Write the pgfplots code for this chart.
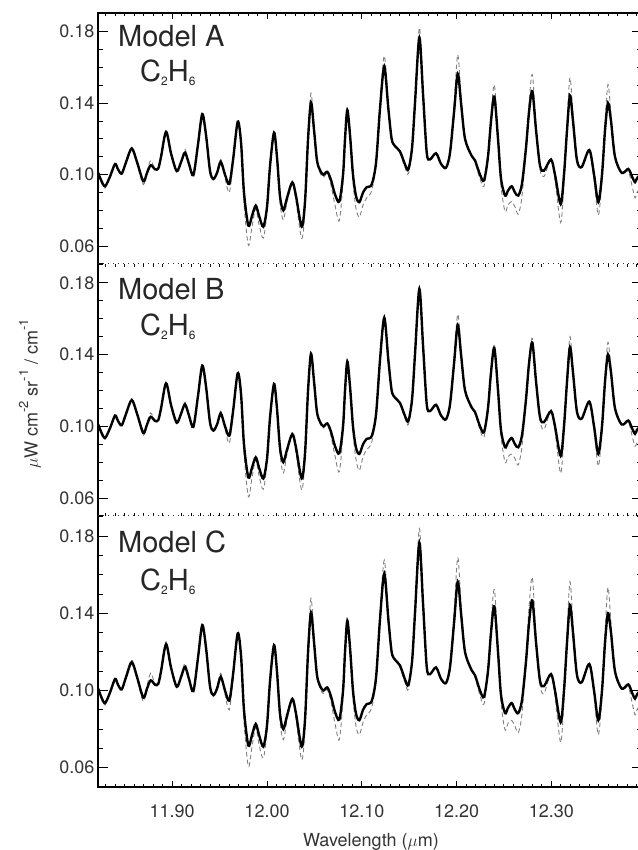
\documentclass[border=0pt]{standalone}
\usepackage{pgfplots}
\pgfplotsset{compat=1.18}
\usepackage{pgfplotstable}
\usepackage{fontspec}
\setmainfont{TeX Gyre Heros}

\pgfplotstableread{
x obs A B C
11.8220 0.1010 0.1005 0.1005 0.1000
11.8249 0.0970 0.0960 0.0960 0.0960
11.8291 0.0935 0.0925 0.0928 0.0925
11.8344 0.0990 0.0990 0.0990 0.0990
11.8397 0.1060 0.1060 0.1060 0.1060
11.8428 0.1030 0.1030 0.1030 0.1030
11.8467 0.1006 0.1005 0.1005 0.1005
11.8513 0.1070 0.1075 0.1075 0.1080
11.8573 0.1147 0.1150 0.1150 0.1160
11.8629 0.1070 0.1060 0.1065 0.1060
11.8695 0.0963 0.0944 0.0950 0.0944
11.8734 0.1010 0.1020 0.1020 0.1025
11.8773 0.1053 0.1080 0.1075 0.1090
11.8819 0.1030 0.1030 0.1030 0.1035
11.8853 0.1035 0.1040 0.1040 0.1045
11.8882 0.1100 0.1100 0.1100 0.1110
11.8935 0.1240 0.1240 0.1240 0.1253
11.8987 0.1120 0.1115 0.1115 0.1120
11.9047 0.1020 0.1020 0.1020 0.1020
11.9093 0.1070 0.1075 0.1075 0.1075
11.9135 0.1123 0.1142 0.1135 0.1142
11.9177 0.1060 0.1060 0.1060 0.1060
11.9223 0.0997 0.0990 0.0992 0.0990
11.9272 0.1170 0.1170 0.1170 0.1170
11.9317 0.1339 0.1340 0.1340 0.1345
11.9357 0.1220 0.1220 0.1220 0.1220
11.9399 0.1020 0.1010 0.1015 0.1010
11.9434 0.0976 0.0970 0.0972 0.0970
11.9473 0.1010 0.1015 0.1015 0.1015
11.9512 0.1072 0.1085 0.1085 0.1090
11.9557 0.1000 0.0980 0.0985 0.0980
11.9602 0.0948 0.0900 0.0905 0.0900
11.9641 0.1080 0.1060 0.1065 0.1060
11.9691 0.1296 0.1300 0.1300 0.1305
11.9726 0.1180 0.1170 0.1175 0.1170
11.9757 0.0900 0.0840 0.0850 0.0840
11.9803 0.0715 0.0605 0.0608 0.0607
11.9842 0.0770 0.0710 0.0715 0.0710
11.9881 0.0827 0.0810 0.0815 0.0810
11.9916 0.0770 0.0720 0.0725 0.0720
11.9961 0.0709 0.0645 0.0649 0.0650
12.0000 0.0820 0.0790 0.0795 0.0790
12.0032 0.1050 0.1040 0.1040 0.1040
12.0074 0.1236 0.1220 0.1225 0.1230
12.0105 0.1100 0.1080 0.1085 0.1080
12.0137 0.0880 0.0840 0.0845 0.0840
12.0172 0.0800 0.0747 0.0740 0.0745
12.0211 0.0870 0.0845 0.0845 0.0845
12.0267 0.0957 0.0950 0.0950 0.0955
12.0306 0.0880 0.0850 0.0850 0.0850
12.0366 0.0709 0.0643 0.0645 0.0641
12.0401 0.0850 0.0810 0.0820 0.0810
12.0433 0.1200 0.1220 0.1200 0.1230
12.0464 0.1405 0.1456 0.1405 0.1478
12.0496 0.1250 0.1270 0.1250 0.1280
12.0527 0.1080 0.1080 0.1080 0.1080
12.0559 0.1025 0.1010 0.1015 0.1010
12.0594 0.1000 0.0985 0.0990 0.0985
12.0636 0.1016 0.1005 0.1010 0.1005
12.0675 0.0970 0.0940 0.0945 0.0940
12.0717 0.0890 0.0830 0.0835 0.0830
12.0763 0.0850 0.0743 0.0747 0.0745
12.0802 0.1000 0.0960 0.0965 0.0960
12.0823 0.1200 0.1200 0.1200 0.1200
12.0847 0.1362 0.1365 0.1362 0.1366
12.0876 0.1220 0.1210 0.1215 0.1210
12.0907 0.1000 0.0960 0.0965 0.0960
12.0939 0.0880 0.0810 0.0815 0.0815
12.0974 0.0846 0.0762 0.0754 0.0771
12.1013 0.0900 0.0830 0.0830 0.0835
12.1052 0.0930 0.0870 0.0870 0.0875
12.1104 0.0945 0.0910 0.0910 0.0910
12.1150 0.1066 0.1060 0.1060 0.1060
12.1192 0.1370 0.1390 0.1375 0.1395
12.1237 0.1606 0.1665 0.1615 0.1676
12.1280 0.1370 0.1390 0.1375 0.1395
12.1315 0.1200 0.1200 0.1200 0.1200
12.1350 0.1160 0.1160 0.1160 0.1160
12.1403 0.1130 0.1120 0.1125 0.1120
12.1456 0.1057 0.1040 0.1045 0.1040
12.1491 0.1029 0.1005 0.1010 0.1005
12.1530 0.1150 0.1150 0.1150 0.1150
12.1561 0.1400 0.1420 0.1405 0.1425
12.1607 0.1766 0.1823 0.1780 0.1840
12.1646 0.1450 0.1470 0.1455 0.1475
12.1685 0.1123 0.1120 0.1120 0.1120
12.1719 0.1085 0.1080 0.1080 0.1080
12.1783 0.1120 0.1120 0.1120 0.1120
12.1836 0.1060 0.1055 0.1055 0.1055
12.1888 0.1039 0.1035 0.1035 0.1035
12.1930 0.1120 0.1120 0.1120 0.1120
12.1973 0.1350 0.1390 0.1380 0.1400
12.2012 0.1565 0.1672 0.1625 0.1690
12.2047 0.1400 0.1440 0.1425 0.1450
12.2089 0.1200 0.1200 0.1200 0.1200
12.2159 0.1105 0.1110 0.1110 0.1110
12.2194 0.1080 0.1070 0.1075 0.1070
12.2247 0.1000 0.0975 0.0980 0.0975
12.2289 0.0968 0.0935 0.0940 0.0930
12.2331 0.1100 0.1090 0.1095 0.1090
12.2363 0.1300 0.1330 0.1310 0.1340
12.2398 0.1437 0.1503 0.1450 0.1524
12.2437 0.1200 0.1220 0.1205 0.1225
12.2468 0.0980 0.0940 0.0950 0.0940
12.2511 0.0883 0.0794 0.0800 0.0796
12.2542 0.0910 0.0830 0.0830 0.0830
12.2581 0.0935 0.0850 0.0845 0.0845
12.2616 0.0900 0.0820 0.0820 0.0815
12.2651 0.0883 0.0779 0.0785 0.0782
12.2690 0.0950 0.0880 0.0890 0.0880
12.2732 0.1150 0.1150 0.1150 0.1160
12.2764 0.1350 0.1400 0.1370 0.1430
12.2799 0.1467 0.1560 0.1490 0.1586
12.2838 0.1250 0.1270 0.1260 0.1280
12.2880 0.1050 0.1030 0.1035 0.1030
12.2922 0.1023 0.0990 0.0982 0.0985
12.2996 0.1085 0.1085 0.1085 0.1085
12.3038 0.1000 0.0970 0.0975 0.0970
12.3098 0.0835 0.0732 0.0738 0.0731
12.3133 0.1000 0.0960 0.0965 0.0960
12.3165 0.1250 0.1290 0.1280 0.1300
12.3196 0.1443 0.1543 0.1500 0.1564
12.3228 0.1300 0.1340 0.1320 0.1350
12.3270 0.1080 0.1080 0.1080 0.1080
12.3320 0.1043 0.1040 0.1040 0.1040
12.3400 0.1138 0.1130 0.1135 0.1130
12.3450 0.1000 0.0970 0.0975 0.0970
12.3495 0.0846 0.0775 0.0778 0.0771
12.3534 0.1000 0.0970 0.0975 0.0970
12.3566 0.1250 0.1290 0.1280 0.1300
12.3597 0.1401 0.1505 0.1468 0.1535
12.3629 0.1300 0.1340 0.1320 0.1350
12.3671 0.1100 0.1100 0.1100 0.1100
12.3742 0.1010 0.1005 0.1005 0.1005
12.3811 0.1032 0.1020 0.1025 0.1020
12.3850 0.0990 0.0940 0.0950 0.0940
12.3882 0.0958 0.0870 0.0889 0.0874
12.3903 0.0980 0.0900 0.0910 0.0900
12.3956 0.1010 0.0940 0.0950 0.0940
}\spec

\tikzset{
  sep/.style={black!80, line width=1pt, dash pattern=on 1pt off 4pt},
  frame/.style={black, line width=1.3pt},
}

\pgfplotsset{
  panel/.style={
    scale only axis, width=544pt,
    xmin=11.8217, xmax=12.3956, ymin=0.050, ymax=0.1905,
    axis line style={draw=none},
    clip mode=individual,
    ytick={0.06,0.10,0.14,0.18},
    minor ytick={0.05,0.07,0.08,0.09,0.11,0.12,0.13,0.15,0.16,0.17,0.19},
    xtick={11.9,12.0,12.1,12.2,12.3},
    minor xtick={11.83,11.84,11.85,11.86,11.87,11.88,11.89,11.91,11.92,11.93,11.94,11.95,11.96,11.97,11.98,11.99,12.01,12.02,12.03,12.04,12.05,12.06,12.07,12.08,12.09,12.11,12.12,12.13,12.14,12.15,12.16,12.17,12.18,12.19,12.21,12.22,12.23,12.24,12.25,12.26,12.27,12.28,12.29,12.31,12.32,12.33,12.34,12.35,12.36,12.37,12.38,12.39},
    tick align=inside,
    major tick length=10pt, minor tick length=5pt,
    xtick style={/pgfplots/major tick length=6pt, /pgfplots/minor tick length=3pt},
    tick style={black, line width=1pt},
    /pgf/number format/assume math mode=true,
    yticklabel style={/pgf/number format/fixed, /pgf/number format/precision=2,
      /pgf/number format/fixed zerofill, font=\fontsize{18}{18}\selectfont, text=black!80},
    xticklabel style={/pgf/number format/fixed, /pgf/number format/precision=2,
      /pgf/number format/fixed zerofill, font=\fontsize{18}{18}\selectfont, text=black!80, yshift=-14pt},
  },
  obsline/.style={black, line width=2.4pt, smooth, tension=0.5, no markers},
  modline/.style={black!50, line width=0.9pt, dash pattern=on 4.5pt off 3pt, smooth, tension=0.5, no markers},
}

\newcommand{\sups}[1]{\raisebox{9.5pt}{\fontsize{13}{13}\selectfont #1}}

\begin{document}
\begin{tikzpicture}[x=1pt,y=1pt]
\useasboundingbox (0,0) rectangle (637,850);

% Panel A
\begin{axis}[panel, at={(98pt,586pt)}, anchor=south west, height=251pt,
  xtick pos=right, xticklabels={}]
  \addplot[modline] table[x=x, y=A] {\spec};
  \addplot[obsline] table[x=x, y=obs] {\spec};
  \draw[frame] (rel axis cs:0,0) -- (rel axis cs:0,1) -- (rel axis cs:1,1) -- (rel axis cs:1,0);
  \draw[sep] (rel axis cs:0,0) -- (rel axis cs:1,0);
\end{axis}

% Panel B
\begin{axis}[panel, at={(98pt,334pt)}, anchor=south west, height=252pt,
  xmajorticks=false, xminorticks=false]
  \addplot[modline] table[x=x, y=B] {\spec};
  \addplot[obsline] table[x=x, y=obs] {\spec};
  \draw[frame] (rel axis cs:0,0) -- (rel axis cs:0,1);
  \draw[frame] (rel axis cs:1,0) -- (rel axis cs:1,1);
\end{axis}

% Panel C
\begin{axis}[panel, at={(98pt,63pt)}, anchor=south west, height=271pt,
  xtick pos=left]
  \addplot[modline] table[x=x, y=C] {\spec};
  \addplot[obsline] table[x=x, y=obs] {\spec};
  \draw[frame] (rel axis cs:0,1) -- (rel axis cs:0,0) -- (rel axis cs:1,0) -- (rel axis cs:1,1);
  \draw[sep] (rel axis cs:0,1) -- (rel axis cs:1,1);
\end{axis}

% panel labels
\newcommand{\ethane}{C\raisebox{-4pt}{\fontsize{12}{12}\selectfont 2}H\raisebox{-4pt}{\fontsize{12}{12}\selectfont 6}}
\begin{scope}[every node/.style={inner sep=0pt, anchor=base west, text=black!85, font=\fontsize{29}{29}\selectfont}]
  \node at (118,803) {Model A};
  \node at (140,768) {\ethane};
  \node at (118,550) {Model B};
  \node at (140,514) {\ethane};
  \node at (118,297) {Model C};
  \node at (140,259) {\ethane};
\end{scope}

% axis titles
\node[rotate=90, text=black!80, font=\fontsize{18}{18}\selectfont] at (30,456)
  {$\mu$W cm\sups{-2} sr\sups{-1} / cm\sups{-1}};
\node[anchor=base, inner sep=0pt, text=black!80, font=\fontsize{18}{18}\selectfont] at (371,3)
  {Wavelength ($\mu$m)};
\end{tikzpicture}
\end{document}
